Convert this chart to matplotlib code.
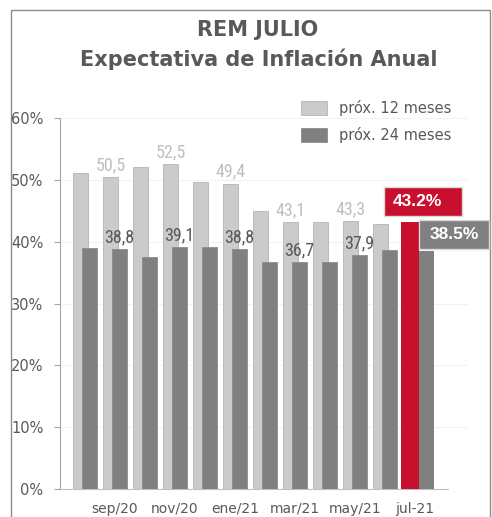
import matplotlib
matplotlib.use("Agg")
import matplotlib.pyplot as plt
from matplotlib.patches import Patch, Rectangle
from matplotlib.transforms import IdentityTransform

meses = ["ago/20", "sep/20", "oct/20", "nov/20", "dic/20", "ene/21",
         "feb/21", "mar/21", "abr/21", "may/21", "jun/21", "jul-21"]
prox12 = [51.1, 50.5, 52.0, 52.5, 49.7, 49.4, 44.9, 43.1, 43.2, 43.3, 42.8, 43.2]
prox24 = [38.9, 38.8, 37.5, 39.1, 39.2, 38.8, 36.7, 36.7, 36.7, 37.9, 38.7, 38.5]
etiquetas = [1, 3, 5, 7, 9]  # meses con valor rotulado

gris_claro = "#cbcbcb"
gris_osc = "#808080"
rojo = "#c8102e"
texto = "#595959"
angosta = ["Roboto Condensed", "Asap Condensed", "DejaVu Sans"]

fig = plt.figure(figsize=(4.92, 5.17), dpi=100)
ax = fig.add_axes([60/492, 28/517, 408/492, 371/517])

n = len(meses)
x = list(range(n))
# meses previos
ax.bar([i - 0.15 for i in x[:-1]], prox12[:-1], width=0.5, color=gris_claro,
       edgecolor="#bababa", linewidth=0.7, zorder=2)
ax.bar([i + 0.15 for i in x[:-1]], prox24[:-1], width=0.5, color=gris_osc,
       edgecolor="#8c8c8c", linewidth=0.6, zorder=3)
# ultimo mes destacado
x12, x24 = x[-1] - 0.167, x[-1] + 0.383
ax.bar(x12, prox12[-1], width=0.6, color=rojo, zorder=3)
ax.bar(x24, prox24[-1], width=0.5, color=gris_osc, zorder=3)

fmt = lambda v: f"{v:.1f}".replace(".", ",")
for i in etiquetas:
    ax.annotate(fmt(prox12[i]), (i - 0.15, prox12[i]), xytext=(0, 2),
                textcoords="offset points", ha="center", va="bottom",
                color="#bfbfbf", fontsize=13, family=angosta)
    ax.annotate(fmt(prox24[i]), (i + 0.15, prox24[i]), xytext=(0, 2),
                textcoords="offset points", ha="center", va="bottom",
                color=texto, fontsize=13, family=angosta)

ax.set_ylim(0, 60)
ax.set_xlim(-0.833, 12.77)
ax.set_yticks(range(0, 61, 10))
ax.set_yticklabels([f"{v}%" for v in range(0, 61, 10)])
ax.set_xticks(x[1::2])
ax.set_xticklabels(meses[1::2])
ax.tick_params(axis="x", length=0, pad=9, labelsize=10, colors=texto)
ax.tick_params(axis="y", length=4, width=0.8, color="#a6a6a6", pad=8,
               labelsize=10.5, colors=texto)
ax.grid(axis="y", color="#f2f2f2", lw=0.8, zorder=0)
for s in ["top", "right"]:
    ax.spines[s].set_visible(False)
ax.spines["left"].set_color("#a6a6a6")
ax.spines["bottom"].set_color("#bfbfbf")
ax.spines["bottom"].set_bounds(-0.833, 12.1)

# cajas del ultimo dato, ancladas a la punta de cada barra (pixeles)
def caja(xv, yv, txt, color, dx0, dx1, dy0, alto, tx):
    px, py = ax.transData.transform((xv, yv))
    fig.patches.append(Rectangle((px + dx0, py + dy0), dx1 - dx0, alto,
                                 transform=IdentityTransform(), fc=color,
                                 ec="#d9d9d9", lw=1, zorder=5))
    fig.text(px + tx, py + dy0 + alto/2, txt, transform=IdentityTransform(),
             ha="center", va="center", color="white", fontsize=12.5,
             fontweight="bold", family="Liberation Sans", zorder=6)

caja(x12, prox12[-1], f"{prox12[-1]:.1f}%", rojo, -26, 52, 5.5, 29, 8)
caja(x24, prox24[-1], f"{prox24[-1]:.1f}%", gris_osc, -7.5, 62.5, 1.7, 29, 27.5)

fig.text(258/492, 1 - 30/517, "REM JULIO", ha="center", va="center",
         fontsize=15, fontweight="bold", color=texto)
fig.text(259/492, 1 - 59/517, "Expectativa de Inflación Anual", ha="center", va="center",
         fontsize=15, fontweight="bold", color=texto)

handles = [Patch(fc=gris_claro, ec="#bababa", lw=0.7), Patch(fc=gris_osc, ec="#8c8c8c", lw=0.6)]
leg = fig.legend(handles, ["próx. 12 meses", "próx. 24 meses"], loc="upper left",
                 bbox_to_anchor=(301/492, 1 - 100/517), frameon=False, fontsize=10.5,
                 borderpad=0, borderaxespad=0, handlelength=1.8, handleheight=1.05,
                 handletextpad=0.8, labelspacing=0.75)
for t in leg.get_texts():
    t.set_color(texto)

# marco
fig.patches.append(Rectangle((11/492, -0.02), 479/492, 1.02 - 10/517, transform=fig.transFigure,
                             fill=False, ec="#8c8c8c", lw=1, zorder=0))

fig.savefig("out.png", dpi=100)
